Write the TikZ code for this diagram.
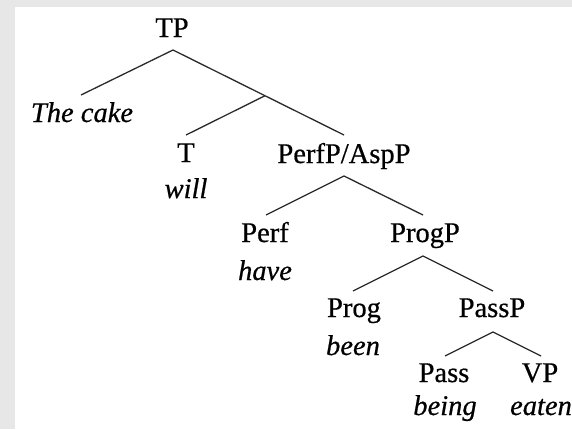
\documentclass[tikz,border=0pt]{standalone}
\usepackage{fontspec}
\setmainfont{Liberation Serif}[FakeBold=1.2]
\usetikzlibrary{calc}
\definecolor{framegray}{HTML}{E8E7E8}
\definecolor{linegray}{HTML}{2A2A2A}
\tikzset{
  lbl/.style={anchor=base, inner sep=0pt, font=\fontsize{28.5}{32}\selectfont\addfontfeature{FakeBold=0.6}, text=black},
  wrd/.style={lbl, font=\fontsize{28.5}{32}\selectfont\itshape\addfontfeature{FakeBold=0.6}},
  branch/.style={draw=linegray, line width=1.3pt}
}
\begin{document}
\begin{tikzpicture}[x=1pt, y=-1pt]
\useasboundingbox (0,0) rectangle (572,429);
\fill[framegray] (0,0) rectangle (572,429);
\fill[white] (15,7) rectangle (572,429);

% labels
\node[lbl] (TP) at (172,37) {TP};
\node[wrd] (cake) at (82,122) {The cake};
\node[lbl] (T) at (186,162) {T};
\node[wrd] (will) at (186,198) {will};
\node[lbl] (PerfP) at (344,163) {PerfP/AspP};
\node[lbl] (Perf) at (265,242) {Perf};
\node[wrd] (have) at (265,280) {have};
\node[lbl] (ProgP) at (425,242) {ProgP};
\node[lbl] (Prog) at (354,317) {Prog};
\node[wrd] (been) at (353,355) {been};
\node[lbl] (PassP) at (492,317) {PassP};
\node[lbl] (Pass) at (444,382) {Pass};
\node[wrd] (being) at (445,415) {being};
\node[lbl] (VP) at (540,382) {VP};
\node[wrd] (eaten) at (541,415) {eaten};

% branch points
\coordinate (TPb) at (173,50);
\coordinate (cakeT) at (81,95);
\coordinate (PerfPT) at (344,135);
\coordinate (Tbar) at ($(TPb)!0.5380!(PerfPT)$);
\coordinate (TT) at (186,135);
\coordinate (PerfPb) at (344,176);
\coordinate (PerfT) at (266,215);
\coordinate (ProgPT) at (423,215);
\coordinate (ProgPb) at (423,256);
\coordinate (ProgT) at (353,291);
\coordinate (PassPT) at (493,291);
\coordinate (PassPb) at (493,332);
\coordinate (PassT) at (445,356);
\coordinate (VPT) at (541,356);

\draw[branch] (cakeT) -- (TPb) -- (PerfPT);
\draw[branch] (Tbar) -- (TT);
\draw[branch] (PerfT) -- (PerfPb) -- (ProgPT);
\draw[branch] (ProgT) -- (ProgPb) -- (PassPT);
\draw[branch] (PassT) -- (PassPb) -- (VPT);
\end{tikzpicture}
\end{document}
